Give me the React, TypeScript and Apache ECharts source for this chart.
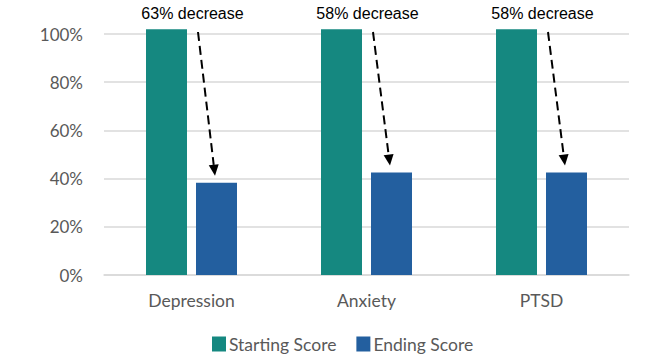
import React, { useEffect, useRef } from "react";
import * as echarts from "echarts";

const categories = ["Depression", "Anxiety", "PTSD"];
const startingScore = [102, 102, 102];
const endingScore = [38.3, 42.5, 42.5];
const decreaseLabels = ["63% decrease", "58% decrease", "58% decrease"];
const yTicks = [0, 20, 40, 60, 80, 100];

const TEAL = "#158880";
const BLUE = "#235F9F";
const GRAY = "#595959";
const BAR_W = 41;
const BAR_GAP = 9;

export default function App() {
  const ref = useRef<HTMLDivElement>(null);
  useEffect(() => {
    if (!ref.current) return;
    const chart = echarts.init(ref.current, undefined, { renderer: "svg" });
    const arrowData = categories.map((_, i) => [i, startingScore[i], endingScore[i]]);
    chart.setOption({
      animation: false,
      grid: { left: 104, right: 29, top: 34, bottom: 80 },
      xAxis: {
        type: "category",
        data: categories,
        axisLine: { show: true, lineStyle: { color: "#d9d9d9", width: 1.5 } },
        axisTick: { show: false },
        axisLabel: { color: GRAY, fontFamily: "Lato", fontSize: 17.5, margin: 16 },
      },
      yAxis: {
        type: "value",
        min: yTicks[0],
        max: yTicks[yTicks.length - 1],
        interval: 20,
        axisLine: { show: false },
        axisTick: { show: false },
        splitLine: { lineStyle: { color: "#d9d9d9", width: 1.5 } },
        axisLabel: { color: GRAY, fontFamily: "Lato", fontSize: 17, margin: 21, formatter: "{value}%" },
      },
      legend: {
        left: 207,
        top: 330,
        icon: "rect",
        itemWidth: 14,
        itemHeight: 15,
        itemGap: 20,
        textStyle: { color: GRAY, fontFamily: "Lato", fontSize: 17.5, padding: [0, 0, 0, -2] },
        data: ["Starting Score", "Ending Score"],
      },
      series: [
        {
          name: "Starting Score",
          type: "bar",
          data: startingScore,
          barWidth: BAR_W,
          barGap: (BAR_GAP / BAR_W) * 100 + "%",
          itemStyle: { color: TEAL },
          clip: false,
        },
        {
          name: "Ending Score",
          type: "bar",
          data: endingScore,
          barWidth: BAR_W,
          itemStyle: { color: BLUE },
          clip: false,
        },
        {
          name: "arrows",
          type: "custom",
          data: arrowData,
          clip: false,
          silent: true,
          z: 10,
          renderItem: (params: any, api: any) => {
            const idx = api.value(0);
            const top = api.coord([idx, 100]);
            const endTop = api.coord([idx, api.value(2)]);
            const cx = top[0];
            const endCenter = cx + BAR_GAP / 2 + BAR_W / 2;
            const x1 = cx + BAR_GAP / 2 + 2;
            const y1 = top[1] - 2;
            const x2 = endCenter - 1.5;
            const y2 = endTop[1] - 7;
            const dx = x2 - x1;
            const dy = y2 - y1;
            const len = Math.sqrt(dx * dx + dy * dy);
            const ux = dx / len;
            const uy = dy / len;
            const headLen = 11;
            const headHalf = 5;
            const bx = x2 - ux * headLen;
            const by = y2 - uy * headLen;
            const px = -uy;
            const py = ux;
            return {
              type: "group",
              children: [
                {
                  type: "line",
                  shape: { x1, y1, x2: bx, y2: by },
                  style: { stroke: "#000", lineWidth: 2, lineDash: [9, 5] },
                },
                {
                  type: "polygon",
                  shape: {
                    points: [
                      [x2, y2],
                      [bx + px * headHalf, by + py * headHalf],
                      [bx - px * headHalf, by - py * headHalf],
                    ],
                  },
                  style: { fill: "#000" },
                },
                {
                  type: "text",
                  x: cx + 1,
                  y: top[1] - 21,
                  style: {
                    text: decreaseLabels[idx],
                    fill: "#000",
                    font: "16px 'Liberation Sans', Arial, sans-serif",
                    align: "center",
                    verticalAlign: "middle",
                  },
                },
              ],
            };
          },
        },
      ],
    });
    return () => chart.dispose();
  }, []);
  return (
    <div
      ref={ref}
      style={{ position: "fixed", left: 0, top: 0, width: 658, height: 355, background: "#fff" }}
    />
  );
}
